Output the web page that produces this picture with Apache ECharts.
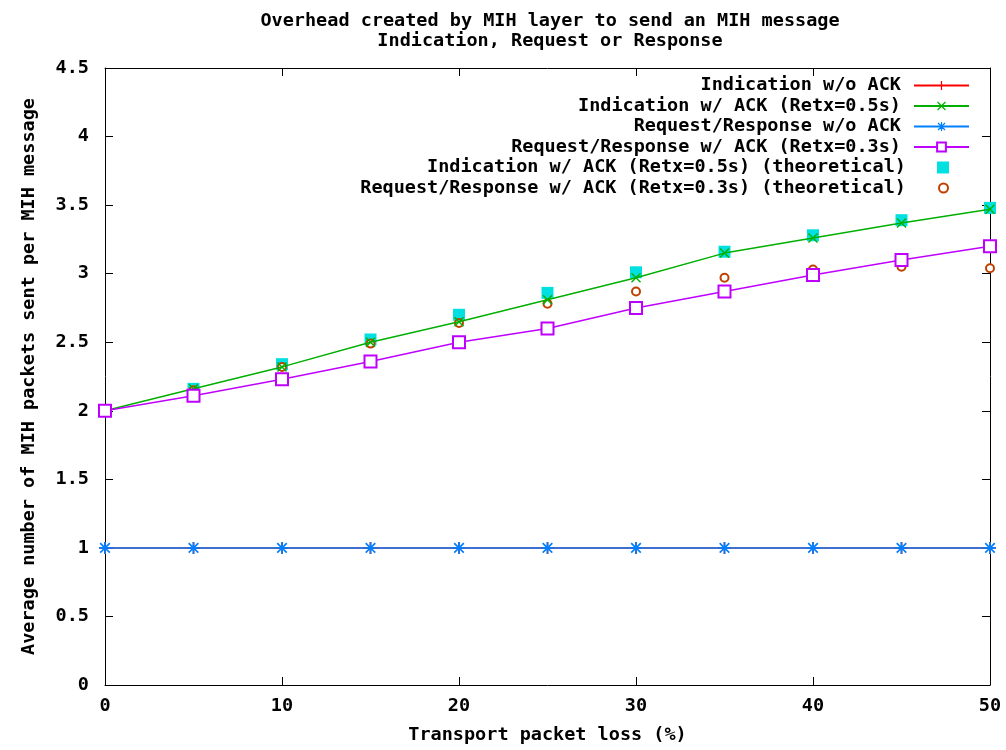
<!DOCTYPE html>
<html><head><meta charset="utf-8">
<script src="https://cdn.jsdelivr.net/npm/echarts@6/dist/echarts.min.js"></script>
<style>html,body{margin:0;background:#fff}#c{width:1006px;height:750px}</style>
</head><body><div id="c"></div>
<script>
const lossPct = [0, 5, 10, 15, 20, 25, 30, 35, 40, 45, 50];
const indicationNoAck = [1, 1, 1, 1, 1, 1, 1, 1, 1, 1, 1];
const indicationAck = [2.0, 2.16, 2.32, 2.50, 2.65, 2.81, 2.97, 3.15, 3.26, 3.37, 3.47];
const reqRespNoAck = [1, 1, 1, 1, 1, 1, 1, 1, 1, 1, 1];
const reqRespAck = [2.0, 2.11, 2.23, 2.36, 2.50, 2.60, 2.75, 2.87, 2.99, 3.10, 3.20];
const indicationAckTheory = [2.0, 2.16, 2.34, 2.52, 2.70, 2.86, 3.01, 3.16, 3.28, 3.39, 3.48];
const reqRespAckTheory = [2.0, 2.15, 2.32, 2.49, 2.64, 2.78, 2.87, 2.97, 3.03, 3.05, 3.04];
const seriesNames = [
  'Indication w/o ACK',
  'Indication w/ ACK (Retx=0.5s)',
  'Request/Response w/o ACK',
  'Request/Response w/ ACK (Retx=0.3s)',
  'Indication w/ ACK (Retx=0.5s) (theoretical)',
  'Request/Response w/ ACK (Retx=0.3s) (theoretical)'
];
const xTicks = [0, 10, 20, 30, 40, 50];
const yTicks = [0, 0.5, 1, 1.5, 2, 2.5, 3, 3.5, 4, 4.5];

const FONT = 'DejaVu Sans Mono';
const FS = 18.5;
const pair = arr => lossPct.map((x, i) => [x, arr[i]]);

const PLUS = 'path://M4.3,0H5.7V4.3H10V5.7H5.7V10H4.3V5.7H0V4.3H4.3Z';
const CROSS = 'path://M0,1L1,0L5,4L9,0L10,1L6,5L10,9L9,10L5,6L1,10L0,9L4,5Z';
const STAR = 'path://M4.3,0H5.7V4.3H10V5.7H5.7V10H4.3V5.7H0V4.3H4.3Z M0.5,1.5L1.5,0.5L5,4L8.5,0.5L9.5,1.5L6,5L9.5,8.5L8.5,9.5L5,6L1.5,9.5L0.5,8.5L4,5Z';

const chart = echarts.init(document.getElementById('c'), null, {renderer: 'canvas'});

const axisCommon = {
  min: 0,
  axisLine: {show: true, onZero: false, lineStyle: {color: '#000', width: 1}},
  axisTick: {show: true, inside: true, length: 8, lineStyle: {color: '#000', width: 1}},
  splitLine: {show: false}
};

const legendTops = [75, 95.5, 116, 136.5, 157, 177.5];
const legends = seriesNames.map((n, i) => {
  const isScatter = i >= 4;
  return {
    data: [n],
    orient: 'vertical',
    right: isScatter ? 57 : 36,
    top: legendTops[i] + 1,
    padding: 0,
    align: 'right',
    itemWidth: isScatter ? (i === 4 ? 12 : 9) : 55,
    itemHeight: isScatter ? (i === 4 ? 12 : 9) : 11,
    selectedMode: false,
    textStyle: {fontFamily: FONT, fontWeight: 'bold', fontSize: FS, color: '#000', lineHeight: 18,
      padding: [0, isScatter ? (i === 4 ? 26 : 28) : 8, 0, 0]}
  };
});

const option = {
  backgroundColor: '#fff',
  animation: false,
  title: {
    text: 'Overhead created by MIH layer to send an MIH message\nIndication, Request or Response',
    left: 545, textAlign: 'center', top: 6,
    textStyle: {fontFamily: FONT, fontWeight: 'bold', fontSize: FS, color: '#000', lineHeight: 20}
  },
  legend: legends,
  grid: {left: 105, right: 16, top: 68, bottom: 63, containLabel: false},
  xAxis: [
    Object.assign({}, axisCommon, {
      type: 'value', max: 50, interval: 10, position: 'bottom',
      name: 'Transport packet loss (%)', nameLocation: 'middle', nameGap: 41,
      nameTextStyle: {fontFamily: FONT, fontWeight: 'bold', fontSize: FS, color: '#000'},
      axisLabel: {fontFamily: FONT, fontWeight: 'bold', fontSize: FS, color: '#000', margin: 12,
        formatter: v => xTicks.includes(v) ? String(v) : ''}
    }),
    Object.assign({}, axisCommon, {
      type: 'value', max: 50, interval: 10, position: 'top', axisLabel: {show: false}
    })
  ],
  yAxis: [
    Object.assign({}, axisCommon, {
      type: 'value', max: 4.5, interval: 0.5, position: 'left',
      name: 'Average number of MIH packets sent per MIH message', nameLocation: 'middle', nameGap: 66,
      nameRotate: 90,
      nameTextStyle: {fontFamily: FONT, fontWeight: 'bold', fontSize: FS, color: '#000'},
      axisLabel: {fontFamily: FONT, fontWeight: 'bold', fontSize: FS, color: '#000', margin: 16,
        formatter: v => yTicks.includes(v) ? String(v) : ''}
    }),
    Object.assign({}, axisCommon, {
      type: 'value', max: 4.5, interval: 0.5, position: 'right', axisLabel: {show: false}
    })
  ],
  series: [
    {name: seriesNames[0], type: 'line', data: pair(indicationNoAck), symbol: PLUS, symbolSize: 12,
      lineStyle: {color: '#ff0000', width: 1.5}, itemStyle: {color: '#ff0000'}},
    {name: seriesNames[1], type: 'line', data: pair(indicationAck), symbol: CROSS, symbolSize: 10,
      lineStyle: {color: '#00b000', width: 1.5}, itemStyle: {color: '#00b000'}},
    {name: seriesNames[2], type: 'line', data: pair(reqRespNoAck), symbol: STAR, symbolSize: 12,
      lineStyle: {color: '#0080ff', width: 1.5}, itemStyle: {color: '#0080ff'}},
    {name: seriesNames[3], type: 'line', data: pair(reqRespAck), symbol: 'emptyRect', symbolSize: 12,
      lineStyle: {color: '#c000ff', width: 1.5}, itemStyle: {color: '#c000ff', borderWidth: 1.5}},
    {name: seriesNames[4], type: 'scatter', data: pair(indicationAckTheory), symbol: 'rect', symbolSize: 12,
      itemStyle: {color: '#00e0e0', opacity: 1}},
    {name: seriesNames[5], type: 'scatter', data: pair(reqRespAckTheory), symbol: 'emptyCircle', symbolSize: 8,
      itemStyle: {color: '#c04000', borderColor: '#c04000', borderWidth: 2, opacity: 1}}
  ]
};
chart.setOption(option);
</script>
</body></html>
